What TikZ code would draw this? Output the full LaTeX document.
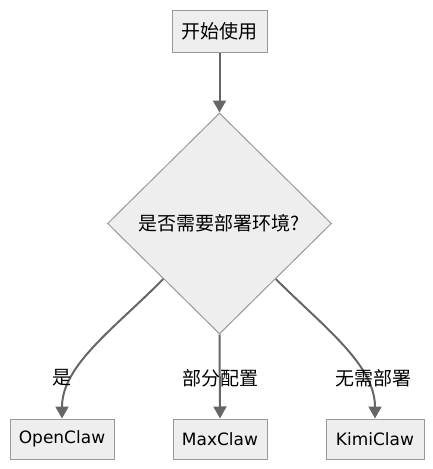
\documentclass[tikz,border=0pt]{standalone}
\usepackage{fontspec}
\setmainfont{DejaVu Sans}
\newfontfamily\cjk{Noto Sans CJK SC}
\usetikzlibrary{shapes.geometric,arrows.meta}
\definecolor{boxfill}{HTML}{EEEEEE}
\definecolor{boxline}{HTML}{999999}
\definecolor{edgec}{HTML}{666666}
\tikzset{
  box/.style={draw=boxline, fill=boxfill, line width=1pt, inner sep=0pt, minimum height=40pt},
  decision/.style={diamond, draw=boxline, fill=boxfill, line width=1pt, inner sep=0pt, aspect=1},
  flow/.style={draw=edgec, line width=2pt, -{Triangle[width=13pt,length=12pt]}},
  cjktext/.style={font=\cjk\fontsize{19}{22}\selectfont},
  lbl/.style={cjktext, inner sep=0pt},
  latin/.style={font=\fontsize{17}{20}\selectfont},
}
\begin{document}
\begin{tikzpicture}[x=1pt,y=-1pt]
\useasboundingbox (0,0) rectangle (433,469);
\node[box, cjktext, minimum width=95pt, minimum height=42pt] (start) at (219.5,31.5) {开始使用};
\node[decision, cjktext, minimum width=224pt, minimum height=221pt] (d) at (219.5,223.5) {是否需要部署环境?};
\node[box, latin, minimum width=104pt] (o) at (62,439) {OpenClaw};
\node[box, latin, minimum width=94pt] (m) at (220,439) {MaxClaw};
\node[box, latin, minimum width=98pt] (k) at (375,439) {KimiClaw};
\draw[flow] (start) -- (d.north);
\draw[flow] (d.south west) .. controls (115,328) and (62,365) .. (o.north);
\draw[flow] (d.south) -- (m.north);
\draw[flow] (d.south east) .. controls (325,328) and (375,365) .. (k.north);
\node[lbl] (l1) at (62,378) {是};
\node[lbl] (l2) at (220,378) {部分配置};
\node[lbl] (l3) at (373,378) {无需部署};
\end{tikzpicture}
\end{document}
